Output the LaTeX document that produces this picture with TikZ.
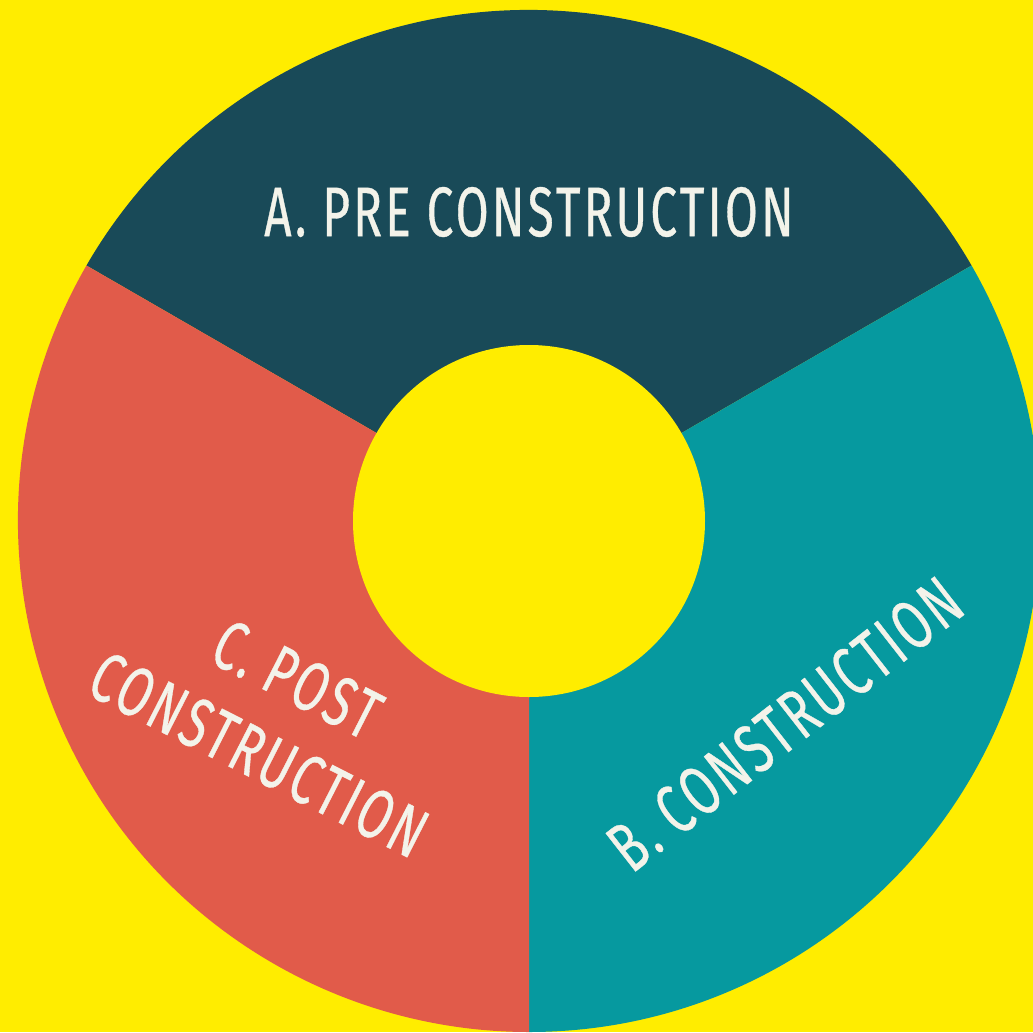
\documentclass[tikz,border=0pt]{standalone}
\usepackage{fontspec}
\usepackage{xcolor}
\usetikzlibrary{calc}
\newfontfamily\labelfont[FakeStretch=0.68, LetterSpace=4.5, FakeBold=0.5]{Fira Sans}
\definecolor{bgyellow}{HTML}{FFED00}
\definecolor{darkteal}{HTML}{194A58}
\definecolor{midteal}{HTML}{06999F}
\definecolor{coral}{HTML}{E15B4A}
\definecolor{offwhite}{HTML}{F3F3EA}

\begin{document}
\begin{tikzpicture}[
    phase/.style={text=offwhite, font=\labelfont\fontsize{20}{24}\selectfont, align=center}
]
    \useasboundingbox (0,0) rectangle (10.33,10.32);
    \fill[bgyellow] (0,0) rectangle (10.33,10.32);
    \clip (0,0) rectangle (10.33,10.32);
    \coordinate (c) at (5.29,5.11);

    % ring sectors
    \foreach \from/\to/\col in {30/150/darkteal, -90/30/midteal, 150/270/coral}
        \fill[\col] (c) -- ($(c)+(\from:5.11)$) arc[start angle=\from, end angle=\to, radius=5.11] -- cycle;
    \node (hub) [circle, fill=bgyellow, minimum size=3.52cm, inner sep=0pt] at (c) {};

    \node (pre) [phase] at (5.29,8.20) {A. PRE CONSTRUCTION};
    \node (cons) [phase, rotate=38] at (7.85,3.08) {B. CONSTRUCTION};
    \node (post) [phase, rotate=-27] at (2.78,3.15) {C. POST\\CONSTRUCTION};
\end{tikzpicture}
\end{document}
